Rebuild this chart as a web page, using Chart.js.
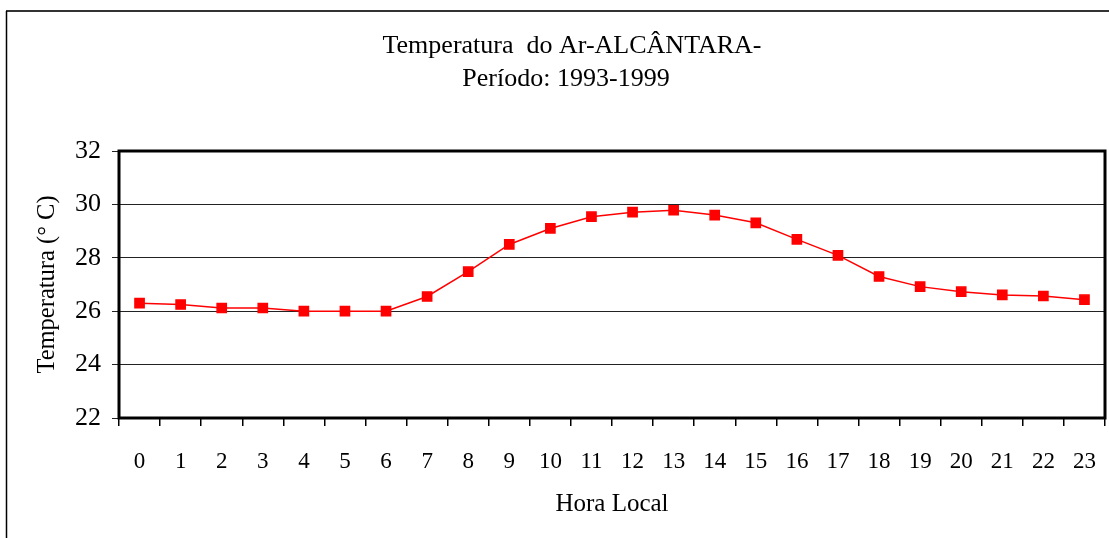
<!DOCTYPE html>
<html>
<head>
<meta charset="utf-8">
<script src="https://cdn.jsdelivr.net/npm/chart.js@4/dist/chart.umd.min.js"></script>
<style>
    html, body { margin: 0; padding: 0; background: #fff; }
    #wrap { width: 1109px; height: 538px; }
</style>
</head>
<body>
<div id="wrap"><canvas id="tempChart" width="1109" height="538"></canvas></div>
<script>
// Données
const horas = ['0', '1', '2', '3', '4', '5', '6', '7', '8', '9', '10', '11',
               '12', '13', '14', '15', '16', '17', '18', '19', '20', '21', '22', '23'];
const temperatura = [26.3, 26.25, 26.12, 26.12, 26.0, 26.0, 26.0, 26.55, 27.48, 28.5, 29.1, 29.54,
                     29.71, 29.78, 29.6, 29.31, 28.69, 28.09, 27.3, 26.92, 26.73, 26.61, 26.57, 26.43];
const titulo = ['Temperatura  do Ar-ALCÂNTARA-', 'Período: 1993-1999'];
const yMin = 22;
const yMax = 32;
const yStep = 2;

const serif = "'Liberation Serif', 'Times New Roman', serif";
Chart.defaults.font.family = serif;
Chart.defaults.color = '#000';

// Cadre extérieur, titre (un peu décalé à droite comme l'original) et cadre du tracé
const framePlugin = {
    id: 'frames',
    beforeDraw(chart) {
        const ctx = chart.ctx;
        ctx.save();
        ctx.fillStyle = '#fff';
        ctx.fillRect(0, 0, chart.width, chart.height);
        ctx.strokeStyle = '#333';
        ctx.lineWidth = 2;
        ctx.beginPath();
        ctx.moveTo(6, 11);
        ctx.lineTo(chart.width, 11);
        ctx.stroke();
        ctx.strokeStyle = '#000';
        ctx.lineWidth = 1.5;
        ctx.beginPath();
        ctx.moveTo(6.5, 11);
        ctx.lineTo(6.5, chart.height);
        ctx.stroke();

        ctx.fillStyle = '#000';
        ctx.font = '26px ' + serif;
        ctx.textAlign = 'center';
        ctx.textBaseline = 'middle';
        ctx.fillText(titulo[0], 572, 46);
        ctx.fillText(titulo[1], 566, 79);
        ctx.restore();
    },
    afterDraw(chart) {
        const a = chart.chartArea;
        const ctx = chart.ctx;
        ctx.save();
        ctx.strokeStyle = '#000';
        ctx.lineWidth = 3;
        ctx.strokeRect(a.left, a.top, a.right - a.left, a.bottom - a.top);
        ctx.restore();
    }
};

new Chart(document.getElementById('tempChart'), {
    type: 'line',
    data: {
        labels: horas,
        datasets: [{
            data: temperatura,
            borderColor: '#ff0000',
            backgroundColor: '#ff0000',
            borderWidth: 1.5,
            pointStyle: 'rect',
            pointRadius: 6.5,
            pointHoverRadius: 6.5,
            tension: 0
        }]
    },
    options: {
        responsive: false,
        animation: false,
        layout: {
            autoPadding: false,
            padding: { left: 0, right: 4, top: 151, bottom: 0 }
        },
        plugins: {
            legend: { display: false },
            tooltip: { enabled: false },
            title: { display: false }
        },
        scales: {
            x: {
                offset: true,
                grid: {
                    offset: true,
                    drawOnChartArea: false,
                    drawTicks: true,
                    tickLength: 8,
                    color: '#000',
                    lineWidth: 1.5
                },
                border: { display: false },
                ticks: {
                    font: { size: 23 },
                    padding: 22,
                    maxRotation: 0,
                    autoSkip: false
                },
                title: {
                    display: true,
                    text: 'Hora Local',
                    font: { size: 25 },
                    padding: { top: 0, bottom: 19 }
                },
                afterFit(scale) {
                    scale.height = 120;
                    scale.paddingLeft = 0;
                    scale.paddingRight = 0;
                }
            },
            y: {
                min: yMin,
                max: yMax,
                grid: {
                    color: '#222',
                    lineWidth: 1,
                    tickLength: 7
                },
                border: { display: false },
                ticks: {
                    stepSize: yStep,
                    font: { size: 26 },
                    padding: 11
                },
                title: {
                    display: true,
                    text: 'Temperatura (° C)',
                    font: { size: 24.5 },
                    padding: { top: 33, bottom: 0 }
                },
                afterFit(scale) {
                    scale.width = 119;
                    scale.paddingTop = 0;
                    scale.paddingBottom = 0;
                }
            }
        }
    },
    plugins: [framePlugin]
});
</script>
</body>
</html>
